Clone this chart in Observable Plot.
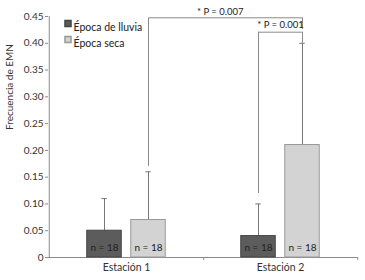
<!DOCTYPE html>
<html>
<head>
<meta charset="utf-8">
<script src="https://cdn.jsdelivr.net/npm/d3@7"></script>
<script src="https://cdn.jsdelivr.net/npm/@observablehq/plot@0.6"></script>
<style>
  html, body { margin: 0; padding: 0; background: #fff; }
</style>
</head>
<body>
<div id="chart"></div>
<script>
// ---- data ----
const stations = ["Estación 1", "Estación 2"];
const seasons = ["Época de lluvia", "Época seca"];
const meanLluvia = [0.05, 0.04];
const meanSeca = [0.07, 0.21];
const errLluvia = [0.06, 0.06];
const errSeca = [0.09, 0.19];
const nLluvia = [18, 18];
const nSeca = [18, 18];
const yTicks = [0, 0.05, 0.10, 0.15, 0.20, 0.25, 0.30, 0.35, 0.40, 0.45];
const yTitle = "Frecuencia de EMN";
const pLabels = ["* P = 0.007", "* P = 0.001"];

// ---- layout ----
const W = 365, H = 280, ML = 48, MR = 8, MT = 16, MB = 23;
const bw = (W - ML - MR) / stations.length;
const barW = 35, off = 22;

const lluvia = stations.map((s, i) => ({station: s, mean: meanLluvia[i], top: meanLluvia[i] + errLluvia[i], n: nLluvia[i]}));
const seca = stations.map((s, i) => ({station: s, mean: meanSeca[i], top: meanSeca[i] + errSeca[i], n: nSeca[i]}));

// bracket levels (data units)
const b1Top = 0.4476, b1Left = 0.172, b1Right = 0.4276;
const b2Top = 0.4207, b2Left = 0.1195, b2Right = seca[1].top;

const dark = "#5c5c5c", darkStroke = "#444", light = "#d3d3d3", lightStroke = "#999";
const lineC = "#8a8a8a";
const fmt = d => d === 0 ? "0" : d3.format(".2f")(d);

const seriesMarks = (rows, dxo, fill, stroke) => [
  Plot.ruleX(rows, {x: "station", y1: "mean", y2: "top", dx: dxo, stroke: "#777"}),
  Plot.tickY(rows, {x: "station", y: "top", insetLeft: bw / 2 + dxo - 3, insetRight: bw / 2 - dxo - 3, stroke: "#777"}),
  Plot.barY(rows, {x: "station", y: "mean", fill, stroke, insetLeft: bw / 2 + dxo - barW / 2, insetRight: bw / 2 - dxo - barW / 2}),
  Plot.text(rows, {x: "station", y: 0, text: d => `n = ${d.n}`, dx: dxo, dy: -10, fill: "#222", fontSize: 10})
];

const plot = Plot.plot({
  width: W, height: H,
  marginLeft: ML, marginRight: MR, marginTop: MT, marginBottom: MB,
  style: {fontFamily: "Lato, 'Open Sans', sans-serif", fontSize: "10px", color: "#333", background: "#fff"},
  x: {domain: stations, padding: 0, axis: null},
  y: {domain: [0, 0.45], axis: null},
  marks: [
    // axes
    Plot.ruleX([stations[0]], {x: d => d, y1: 0, y2: 0.45, dx: -bw / 2, stroke: lineC}),
    Plot.axisY(yTicks, {tickSize: 3, tickPadding: 2, tickFormat: fmt, stroke: lineC, fill: "#333", label: null, fontSize: 10}),
    Plot.ruleY([0], {stroke: lineC}),
    Plot.axisX(stations, {tickSize: 3, dx: bw / 2, tickFormat: () => "", stroke: lineC, label: null}),
    Plot.axisX(stations, {tickSize: 0, tickPadding: 6, label: null, fill: "#333", fontSize: 10.5}),
    Plot.text([yTitle], {frameAnchor: "left", dx: -38.5, dy: -7, rotate: -90, text: d => d, fill: "#333", fontSize: 10}),
    // bars
    ...seriesMarks(lluvia, -off, dark, darkStroke),
    ...seriesMarks(seca, off, light, lightStroke),
    // bracket 1: Estación 1 seca vs Estación 2 seca
    Plot.line([
      {x: stations[0], y: b1Left}, {x: stations[0], y: b1Top},
      {x: stations[1], y: b1Top}, {x: stations[1], y: b1Right}
    ], {x: "x", y: "y", dx: off, stroke: lineC, strokeWidth: 1}),
    Plot.text([pLabels[0]], {x: () => stations[1], y: () => 0.459, text: d => d, dx: off - bw / 2 - 5, fill: "#222", fontSize: 9.5}),
    // bracket 2: Estación 2 lluvia vs seca
    Plot.ruleX([stations[1]], {x: d => d, y1: b2Left, y2: b2Top, dx: -off, stroke: lineC}),
    Plot.ruleX([stations[1]], {x: d => d, y1: b2Right, y2: b2Top, dx: off, stroke: lineC}),
    Plot.tickY([b2Top], {x: () => stations[1], y: d => d, insetLeft: bw / 2 - off, insetRight: bw / 2 - off, stroke: lineC}),
    Plot.text([pLabels[1]], {x: () => stations[1], y: () => 0.435, text: d => d, fill: "#222", fontSize: 9.5}),
    // legend
    Plot.dot([seasons[0]], {frameAnchor: "top-left", dx: 19.5, dy: 7, symbol: "square", r: 3.4, fill: dark, stroke: darkStroke}),
    Plot.dot([seasons[1]], {frameAnchor: "top-left", dx: 19.5, dy: 23, symbol: "square", r: 3.4, fill: light, stroke: lightStroke}),
    Plot.text([seasons[0]], {frameAnchor: "top-left", dx: 25, dy: 7, textAnchor: "start", text: d => d, fill: "#222", fontSize: 10.5}),
    Plot.text([seasons[1]], {frameAnchor: "top-left", dx: 25, dy: 23, textAnchor: "start", text: d => d, fill: "#222", fontSize: 10.5})
  ]
});
document.getElementById("chart").appendChild(plot);
</script>
</body>
</html>
